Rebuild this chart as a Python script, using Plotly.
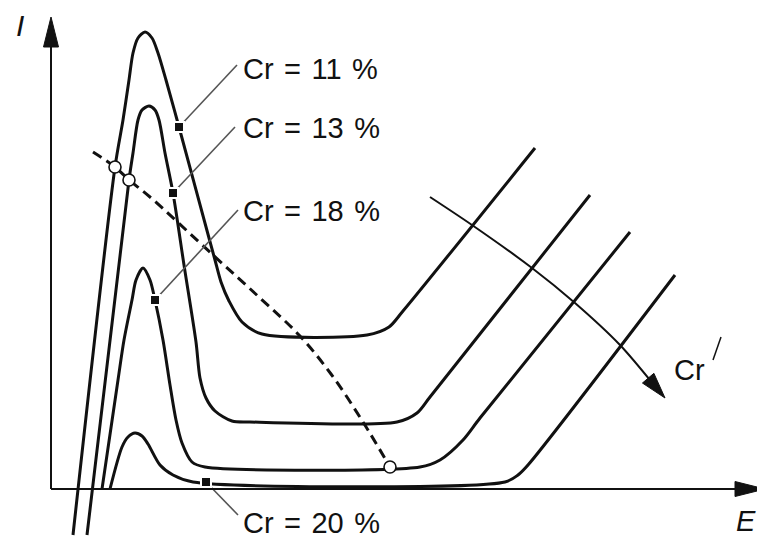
import math
import plotly.graph_objects as go

# Schematic anodic polarization curves of Fe-Cr alloys (E horizontal, I vertical).
# Coordinates: E measured right from the origin, I measured up from the origin.

cr_levels = ["Cr\u200a = \u200a11\u200a %", "Cr\u200a = \u200a13\u200a %",
             "Cr\u200a = \u200a18\u200a %", "Cr\u200a = \u200a20\u200a %"]

e_cr11 = [22, 64, 72, 78, 82, 87, 94, 101, 107, 115, 128, 158, 164, 170, 178, 191, 211, 316, 338, 352, 484]
i_cr11 = [-46, 322, 369, 409, 436, 451, 457, 451, 436, 409, 362, 251, 229, 207, 188, 167, 155, 154, 162, 178, 341]

e_cr13 = [36, 78, 82, 87, 91, 98, 104, 108, 114, 122, 133, 145, 149, 155, 164, 181, 199, 346, 366, 379, 539]
i_cr13 = [-46, 309, 336, 369, 379, 383, 379, 369, 336, 296, 224, 147, 111, 91, 78, 68, 67, 67, 76, 92, 294]

e_cr18 = [51, 67, 73, 81, 85, 92, 99, 104, 112, 119, 125, 131, 141, 154, 369, 389, 412, 429, 579]
i_cr18 = [0, 109, 149, 189, 209, 221, 209, 189, 149, 104, 69, 46, 27, 22, 22, 29, 49, 71, 257]

e_cr20 = [59, 71, 77, 84, 91, 97, 109, 122, 142, 454, 467, 477, 624]
i_cr20 = [0, 42, 52, 56, 53, 45, 24, 14, 7, 7, 14, 24, 214]

# Labelled point on each curve and the end of its leader line
mark_e = [128, 122, 104, 155]
mark_i = [362, 296, 189, 7]
lead_e = [186, 184, 187, 187]
lead_i = [424, 362, 279, -26]
label_e = [190, 190, 190, 190]
label_i = [420, 361, 278, -34]

# Dashed locus of the critical (Flade) points
e_flade = [42, 64, 78, 99, 162, 209, 248, 280, 312, 339]
i_flade = [337, 322, 309, 292, 234, 191, 154, 115, 67, 22]
e_open = [64, 78, 339]
i_open = [322, 309, 22]

# Curved arrow: direction of increasing Cr
e_trend = [379, 421, 481, 524, 569, 603]
i_trend = [292, 264, 221, 186, 144, 104]
e_trend_tip, i_trend_tip = 614, 91

INK = "#111111"
GREY = "#555555"
FONT = "Liberation Sans, Arial, sans-serif"

fig = go.Figure()

for e, i in [(e_cr11, i_cr11), (e_cr13, i_cr13), (e_cr18, i_cr18), (e_cr20, i_cr20)]:
    fig.add_trace(go.Scatter(x=e, y=i, mode="lines",
                             line=dict(color=INK, width=3, shape="spline", smoothing=0.8),
                             hoverinfo="skip", showlegend=False))

fig.add_trace(go.Scatter(x=e_flade, y=i_flade, mode="lines",
                         line=dict(color=INK, width=3, dash="10px,6px", shape="spline", smoothing=1.0),
                         hoverinfo="skip", showlegend=False))

for k in range(len(cr_levels)):
    fig.add_trace(go.Scatter(x=[mark_e[k], lead_e[k]], y=[mark_i[k], lead_i[k]], mode="lines",
                             line=dict(color=GREY, width=1.6), hoverinfo="skip", showlegend=False))

fig.add_trace(go.Scatter(x=mark_e, y=mark_i, mode="markers",
                         marker=dict(symbol="square", size=10, color=INK, line=dict(color="white", width=2)),
                         hoverinfo="skip", showlegend=False))

fig.add_trace(go.Scatter(x=e_open, y=i_open, mode="markers",
                         marker=dict(symbol="circle", size=12, color="white", line=dict(color=INK, width=1.6)),
                         hoverinfo="skip", showlegend=False))

fig.add_trace(go.Scatter(x=e_trend, y=i_trend, mode="lines",
                         line=dict(color=INK, width=2, shape="spline", smoothing=0.8),
                         hoverinfo="skip", showlegend=False))


def arrow_head(tip_x, tip_y, from_x, from_y, length, width):
    dx, dy = tip_x - from_x, tip_y - from_y
    n = math.hypot(dx, dy)
    ux, uy = dx / n, dy / n
    bx, by = tip_x - ux * length, tip_y - uy * length
    px, py = -uy * width / 2, ux * width / 2
    return (f"M {tip_x},{tip_y} L {bx + px},{by + py} L {bx - px},{by - py} Z")


shapes = []
# Axes
shapes.append(dict(type="line", xref="x", yref="y", x0=0, y0=0, x1=0, y1=445,
                   line=dict(color=INK, width=2)))
shapes.append(dict(type="line", xref="x", yref="y", x0=0, y0=0, x1=690, y1=0,
                   line=dict(color=INK, width=2)))
shapes.append(dict(type="path", xref="x", yref="y", path=arrow_head(0, 472, 0, 0, 30, 15),
                   fillcolor=INK, line=dict(color=INK, width=1)))
shapes.append(dict(type="path", xref="x", yref="y", path=arrow_head(714, 0, 0, 0, 30, 15),
                   fillcolor=INK, line=dict(color=INK, width=1)))
# Head of the Cr arrow
shapes.append(dict(type="path", xref="x", yref="y",
                   path=arrow_head(e_trend_tip, i_trend_tip, e_trend[-2], i_trend[-2], 26, 15),
                   fillcolor=INK, line=dict(color=INK, width=1)))
# Small stroke after the Cr label
shapes.append(dict(type="line", xref="x", yref="y", x0=662, y0=129, x1=670, y1=152,
                   line=dict(color=INK, width=1.5)))

annotations = []
for k, txt in enumerate(cr_levels):
    annotations.append(dict(x=label_e[k], y=label_i[k], xref="x", yref="y", text=txt,
                            showarrow=False, xanchor="left", yanchor="middle",
                            font=dict(family=FONT, size=29, color=INK)))
annotations.append(dict(x=621, y=119, xref="x", yref="y", text="Cr", showarrow=False,
                        xanchor="left", yanchor="middle", font=dict(family=FONT, size=29, color=INK)))
annotations.append(dict(x=-31, y=464, xref="x", yref="y", text="<i>I</i>", showarrow=False,
                        xanchor="center", yanchor="middle", font=dict(family=FONT, size=30, color=INK)))
annotations.append(dict(x=695, y=-50, xref="x", yref="y", text="<i>E</i>", showarrow=False,
                        xanchor="center", yanchor="bottom", font=dict(family=FONT, size=29, color=INK)))

fig.update_layout(
    width=757, height=540,
    margin=dict(l=0, r=0, t=0, b=0),
    paper_bgcolor="white", plot_bgcolor="white",
    xaxis=dict(range=[-51, 706], visible=False, fixedrange=True),
    yaxis=dict(range=[-51, 489], visible=False, fixedrange=True),
    shapes=shapes, annotations=annotations, showlegend=False,
)

fig.write_html("out.html")
